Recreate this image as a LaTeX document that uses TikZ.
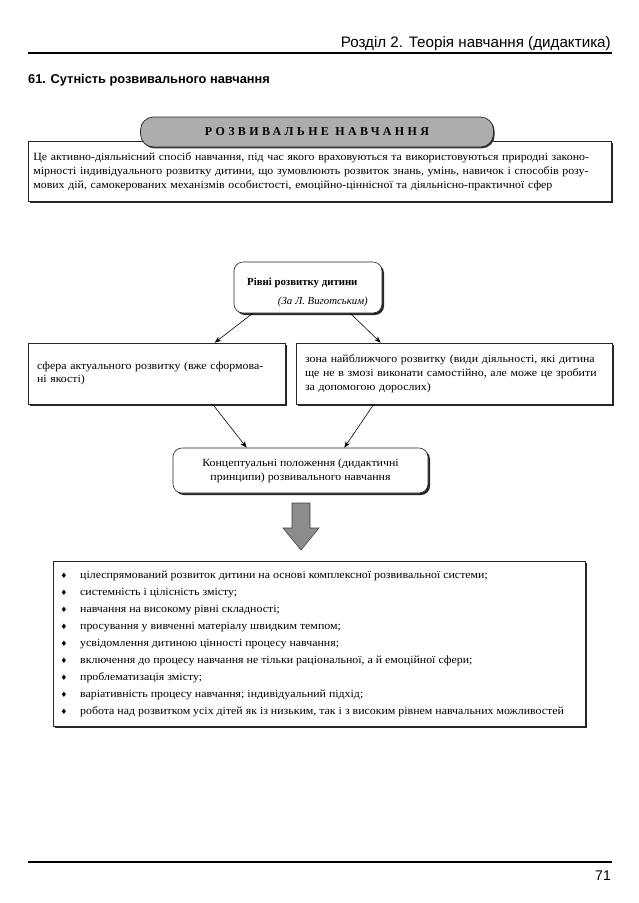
\documentclass[tikz,border=0pt]{standalone}
\usepackage{fontspec}
\setmainfont{Liberation Serif}
\newfontfamily\hsans{Liberation Sans}
\newfontfamily\symf{DejaVu Sans}
\newfontfamily\bodyserif[FakeStretch=1.08]{Liberation Serif}
\usetikzlibrary{shadows,calc,arrows.meta}
\begin{document}
\begin{tikzpicture}[x=1pt,y=-1pt,
  sq/.style={draw=black!85, line width=0.6pt, fill=white,
    drop shadow={shadow xshift=2pt, shadow yshift=-2pt, fill=black!85, opacity=1}},
  rnd/.style={sq, rounded corners=9pt},
  conn/.style={-{Stealth[length=6.5pt,width=5pt]}, line width=0.6pt},
  bodyf/.style={font=\bodyserif\fontsize{11}{14}\selectfont},
  listitem/.style={font=\bodyserif\fontsize{11}{14}\selectfont, anchor=base west, inner sep=0pt},
]
\useasboundingbox (0,0) rectangle (638,903);
\fill[white] (0,0) rectangle (638,903);

% header
\node[anchor=base east, font=\hsans\fontsize{15.2}{17}\selectfont, inner sep=0pt] (hdr) at (611,47) {Розділ 2. Теорія навчання (дидактика)};
\draw[line width=1.1pt] (28,53) -- (612,53);
\node[anchor=base west, font=\hsans\bfseries\fontsize{12.8}{14}\selectfont, inner sep=0pt] (sect) at (28,83) {61. Сутність розвивального навчання};

% description box
\node[sq, bodyf, anchor=north west, minimum width=583pt, minimum height=60pt, text width=573pt, inner xsep=5pt, align=left] (desc) at (28,141)
{Це активно-діяльнісний спосіб навчання, під час якого враховуються та використовуються природні законо-\\
мірності індивідуального розвитку дитини, що зумовлюють розвиток знань, умінь, навичок і способів розу-\\
мових дій, самокерованих механізмів особистості, емоційно-ціннісної та діяльнісно-практичної сфер};

% title pill
\node[draw=black!85, line width=0.7pt, fill=black!32, rounded corners=13pt, minimum width=353pt, minimum height=30pt,
  drop shadow={shadow xshift=1.2pt, shadow yshift=-1.4pt, fill=black!80, opacity=1},
  font=\bfseries\fontsize{12}{14}\selectfont\addfontfeature{LetterSpace=28}] (title) at (317,132) {РОЗВИВАЛЬНЕ НАВЧАННЯ};

% levels box
\node[rnd, minimum width=148pt, minimum height=51pt] (rivni) at (308,287.5) {};
\node[anchor=base west, inner sep=0pt, font=\bfseries\fontsize{10.8}{13}\selectfont] (rivni1) at (247,285) {Рівні розвитку дитини};
\node[anchor=base east, inner sep=0pt, font=\itshape\fontsize{10.8}{13}\selectfont] (rivni2) at (368,304) {(За Л. Виготським)};

% two boxes
\node[sq, font=\bodyserif\fontsize{11}{13.5}\selectfont, minimum width=257pt, minimum height=61pt, text width=239pt, inner xsep=9pt, align=left] (actual) at (156.5,373.5)
{сфера актуального розвитку (вже сформова-\\ні якості)};
\node[sq, bodyf, minimum width=316pt, minimum height=61pt, text width=298pt, inner xsep=9pt, align=left] (zone) at (454,373.5)
{зона найближчого розвитку (види діяльності, які дитина\\ще не в змозі виконати самостійно, але може це зробити\\за допомогою дорослих)};

% concept box
\node[rnd, bodyf, minimum width=255pt, minimum height=45pt, align=center] (concept) at (300.5,470.5)
{Концептуальні положення (дидактичні\\принципи) розвивального навчання};

% arrows
\draw[conn] ([xshift=19pt]rivni.south west) -- ([xshift=187pt]actual.north west);
\draw[conn] ([xshift=-32pt]rivni.south east) -- ([xshift=85pt]zone.north west);
\draw[conn] ([xshift=185pt]actual.south west) -- ([xshift=74pt]concept.north west);
\draw[conn] ([xshift=78pt]zone.south west) -- ([xshift=-84pt]concept.north east);

% big arrow
\draw[fill=black!45, draw=black!75, line width=0.6pt]
  (292,503) -- (310,503) -- (310,528) -- (319,528) -- (301,550) -- (283,528) -- (292,528) -- cycle;

% principles box
\node[sq, minimum width=532pt, minimum height=165pt] (princ) at (319,643.5) {};
\foreach \t [count=\i] in {
  {цілеспрямований розвиток дитини на основі комплексної розвивальної системи;},
  {системність і цілісність змісту;},
  {навчання на високому рівні складності;},
  {просування у вивченні матеріалу швидким темпом;},
  {усвідомлення дитиною цінності процесу навчання;},
  {включення до процесу навчання не тільки раціональної, а й емоційної сфери;},
  {проблематизація змісту;},
  {варіативність процесу навчання; індивідуальний підхід;},
  {робота над розвитком усіх дітей як із низьким, так і з високим рівнем навчальних можливостей}}
{
  \node[listitem, font=\symf\fontsize{7.5}{8}\selectfont] (b\i) at (60.5,{561+17*\i}) {♦};
  \node[listitem] (t\i) at (80,{561+17*\i}) {\t};
}

% footer
\draw[line width=1.1pt] (28,862) -- (612,862);
\node[anchor=base east, font=\hsans\fontsize{14}{16}\selectfont, inner sep=0pt] (pg) at (611,880) {71};
\end{tikzpicture}
\end{document}
